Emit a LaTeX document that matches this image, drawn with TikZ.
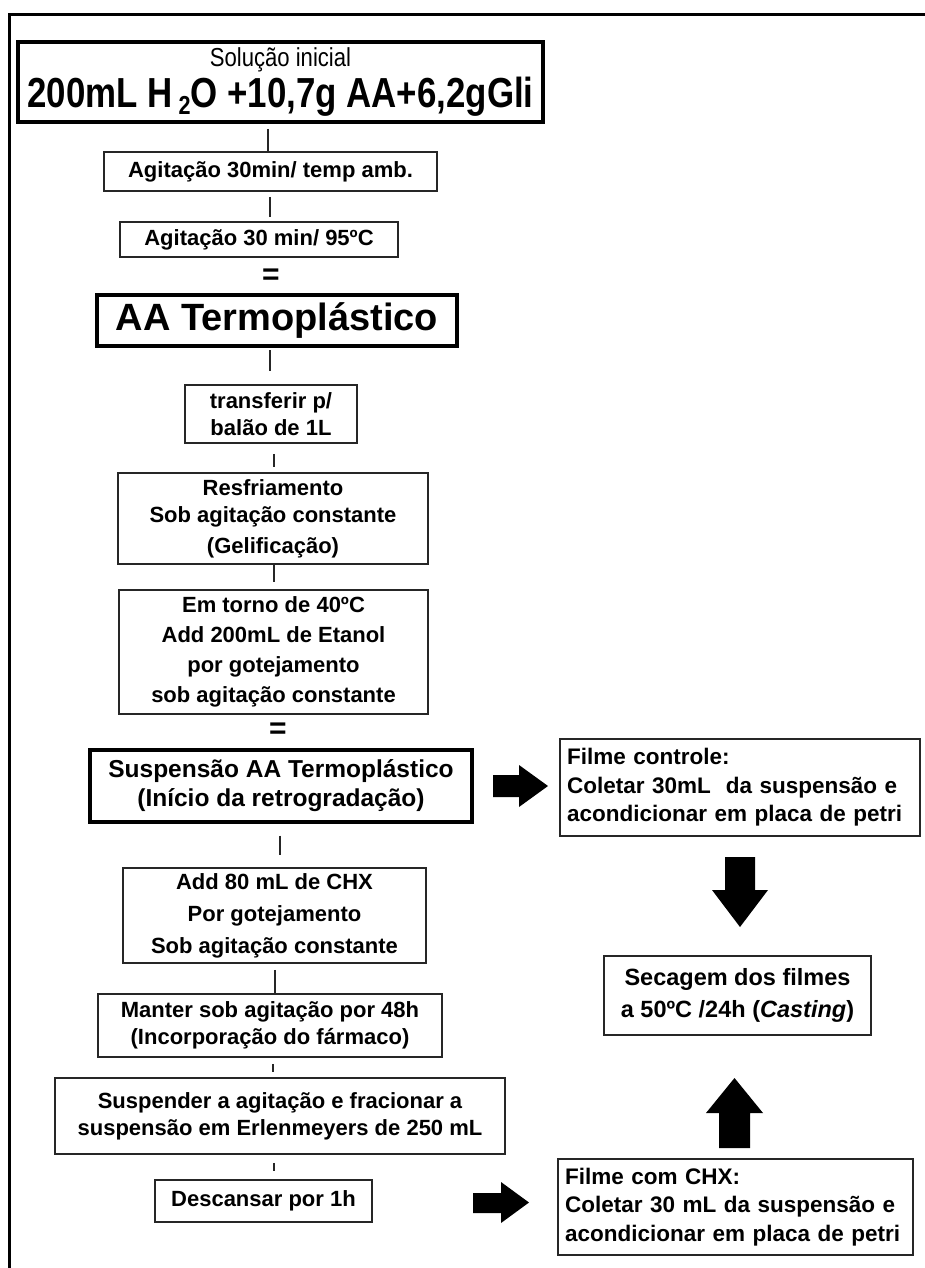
\documentclass[tikz,border=0pt]{standalone}
\usepackage{graphicx}
\usepackage{fontspec}
\setmainfont{Liberation Sans}
\begin{document}
\begin{tikzpicture}[x=1pt,y=-1pt,
  box/.style={draw=black!85, line width=1.6pt, inner sep=0pt, align=center,
    font=\bfseries\fontsize{22}{27}\selectfont},
  heavybox/.style={box, draw=black, line width=4pt},
  leftbox/.style={draw=black!85, line width=1.6pt, inner xsep=7pt, inner ysep=0pt,
    align=left, font=\bfseries\fontsize{22.5}{28.5}\selectfont},
  conn/.style={draw=black!85, line width=1.6pt},
  eqsign/.style={inner sep=0pt, font=\bfseries\fontsize{30}{30}\selectfont},
  blockarrow/.style={fill=black, draw=none}]
\useasboundingbox (0,0) rectangle (925,1268);
% outer frame (only top and left edges visible)
\draw[line width=3pt] (9,1268) -- (9,15) -- (925,15);

% main column
\node[heavybox, minimum width=525pt, minimum height=80pt] (b1) at (280.5,82)
  {\scalebox{0.85}[1]{\mdseries\fontsize{26}{26}\selectfont Solução inicial}\\[4pt]
   \scalebox{0.83}[1]{\fontsize{42}{42}\selectfont 200mL H\,\raisebox{-0.3ex}{\fontsize{26}{26}\selectfont 2}O +10,7g AA+6,2gGli}};
\node[box, minimum width=333pt, minimum height=39pt] (b2) at (270.5,171.5) {Agitação 30min/ temp amb.};
\node[box, minimum width=278pt, minimum height=35pt] (b3) at (259,239.5) {Agitação 30 min/ 95ºC};
\node[eqsign] (e1) at (271,277) {=};
\node[heavybox, minimum width=360pt, minimum height=51pt, font=\bfseries\fontsize{38}{38}\selectfont] (b4) at (277,320.5) {AA Termoplástico};
\node[box, minimum width=172pt, minimum height=58pt] (b5) at (271,414) {transferir p/\\balão de 1L};
\node[box, minimum width=310pt, minimum height=91pt] (b6) at (273,518.5) {Resfriamento\\Sob agitação constante\\[4pt](Gelificação)};
\node[box, minimum width=309pt, minimum height=124pt, font=\bfseries\fontsize{22}{30}\selectfont] (b7) at (273.5,652)
  {Em torno de 40ºC\\Add 200mL de Etanol\\por gotejamento\\sob agitação constante};
\node[eqsign] (e2) at (278,731) {=};
\node[heavybox, line width=3.2pt, minimum width=382pt, minimum height=72pt, font=\bfseries\fontsize{24.5}{29}\selectfont] (b8) at (281,786)
  {Suspensão AA Termoplástico\\(Início da retrogradação)};
\node[box, minimum width=303pt, minimum height=95pt, font=\bfseries\fontsize{22}{32}\selectfont] (b9) at (274.5,915.5)
  {Add 80 mL de CHX\\Por gotejamento\\Sob agitação constante};
\node[box, minimum width=344pt, minimum height=63pt] (b10) at (270,1025.5) {Manter sob agitação por 48h\\(Incorporação do fármaco)};
\node[box, minimum width=450pt, minimum height=76pt] (b11) at (280,1116) {Suspender a agitação e fracionar a\\suspensão em Erlenmeyers de 250 mL};
\node[box, minimum width=217pt, minimum height=42pt] (b12) at (263.5,1201) {Descansar por 1h};

% right column
\node[leftbox, text width=346pt, minimum height=97pt] (fc) at (740,787.5)
  {Filme controle:\\Coletar 30mL\ \ da suspensão e\\acondicionar em placa de petri};
\node[box, minimum width=267pt, minimum height=79pt, font=\bfseries\fontsize{23.5}{32}\selectfont] (sec) at (737.5,995.5)
  {Secagem dos filmes\\a 50ºC /24h (\textit{Casting})};
\node[leftbox, text width=341pt, minimum height=96pt] (fx) at (735.5,1207)
  {Filme com CHX:\\Coletar 30 mL da suspensão e\\acondicionar em placa de petri};

% column x positions for the short connectors
\coordinate (k1) at (268,0);
\coordinate (k2) at (270,0);
\coordinate (k3) at (274,0);
\coordinate (k4) at (280,0);
\coordinate (k5) at (275,0);
\coordinate (k6) at (273,0);

\draw[conn, shorten <=5pt] (b1.south -| k1) -- (b2.north -| k1);
\draw[conn, shorten <=5pt, shorten >=4pt] (b2.south -| k2) -- (b3.north -| k2);
\draw[conn, shorten <=2pt, shorten >=13pt] (b4.south -| k2) -- (b5.north -| k2);
\draw[conn, shorten <=10pt, shorten >=5pt] (b5.south -| k3) -- (b6.north -| k3);
\draw[conn, shorten >=7pt] (b6.south -| k3) -- (b7.north -| k3);
\draw[conn, shorten <=12pt, shorten >=12pt] (b8.south -| k4) -- (b9.north -| k4);
\draw[conn, shorten <=6pt] (b9.south -| k5) -- (b10.north -| k5);
\draw[conn, shorten <=6pt, shorten >=5pt] (b10.south -| k6) -- (b11.north -| k6);
\draw[conn, shorten <=8pt, shorten >=8pt] (b11.south -| k3) -- (b12.north -| k3);

% block arrows
\fill[blockarrow] (493,775) -- (519,775) -- (519,765) -- (548,786) -- (519,807) -- (519,797) -- (493,797) -- cycle;
\fill[blockarrow] (725,857) -- (755,857) -- (755,890) -- (768,890) -- (740,927) -- (712,890) -- (725,890) -- cycle;
\fill[blockarrow] (719,1148) -- (750,1148) -- (750,1113) -- (763,1113) -- (734.5,1078) -- (706,1113) -- (719,1113) -- cycle;
\fill[blockarrow] (473,1193) -- (501,1193) -- (501,1182) -- (529,1202.5) -- (501,1223) -- (501,1213) -- (473,1213) -- cycle;
\end{tikzpicture}
\end{document}
